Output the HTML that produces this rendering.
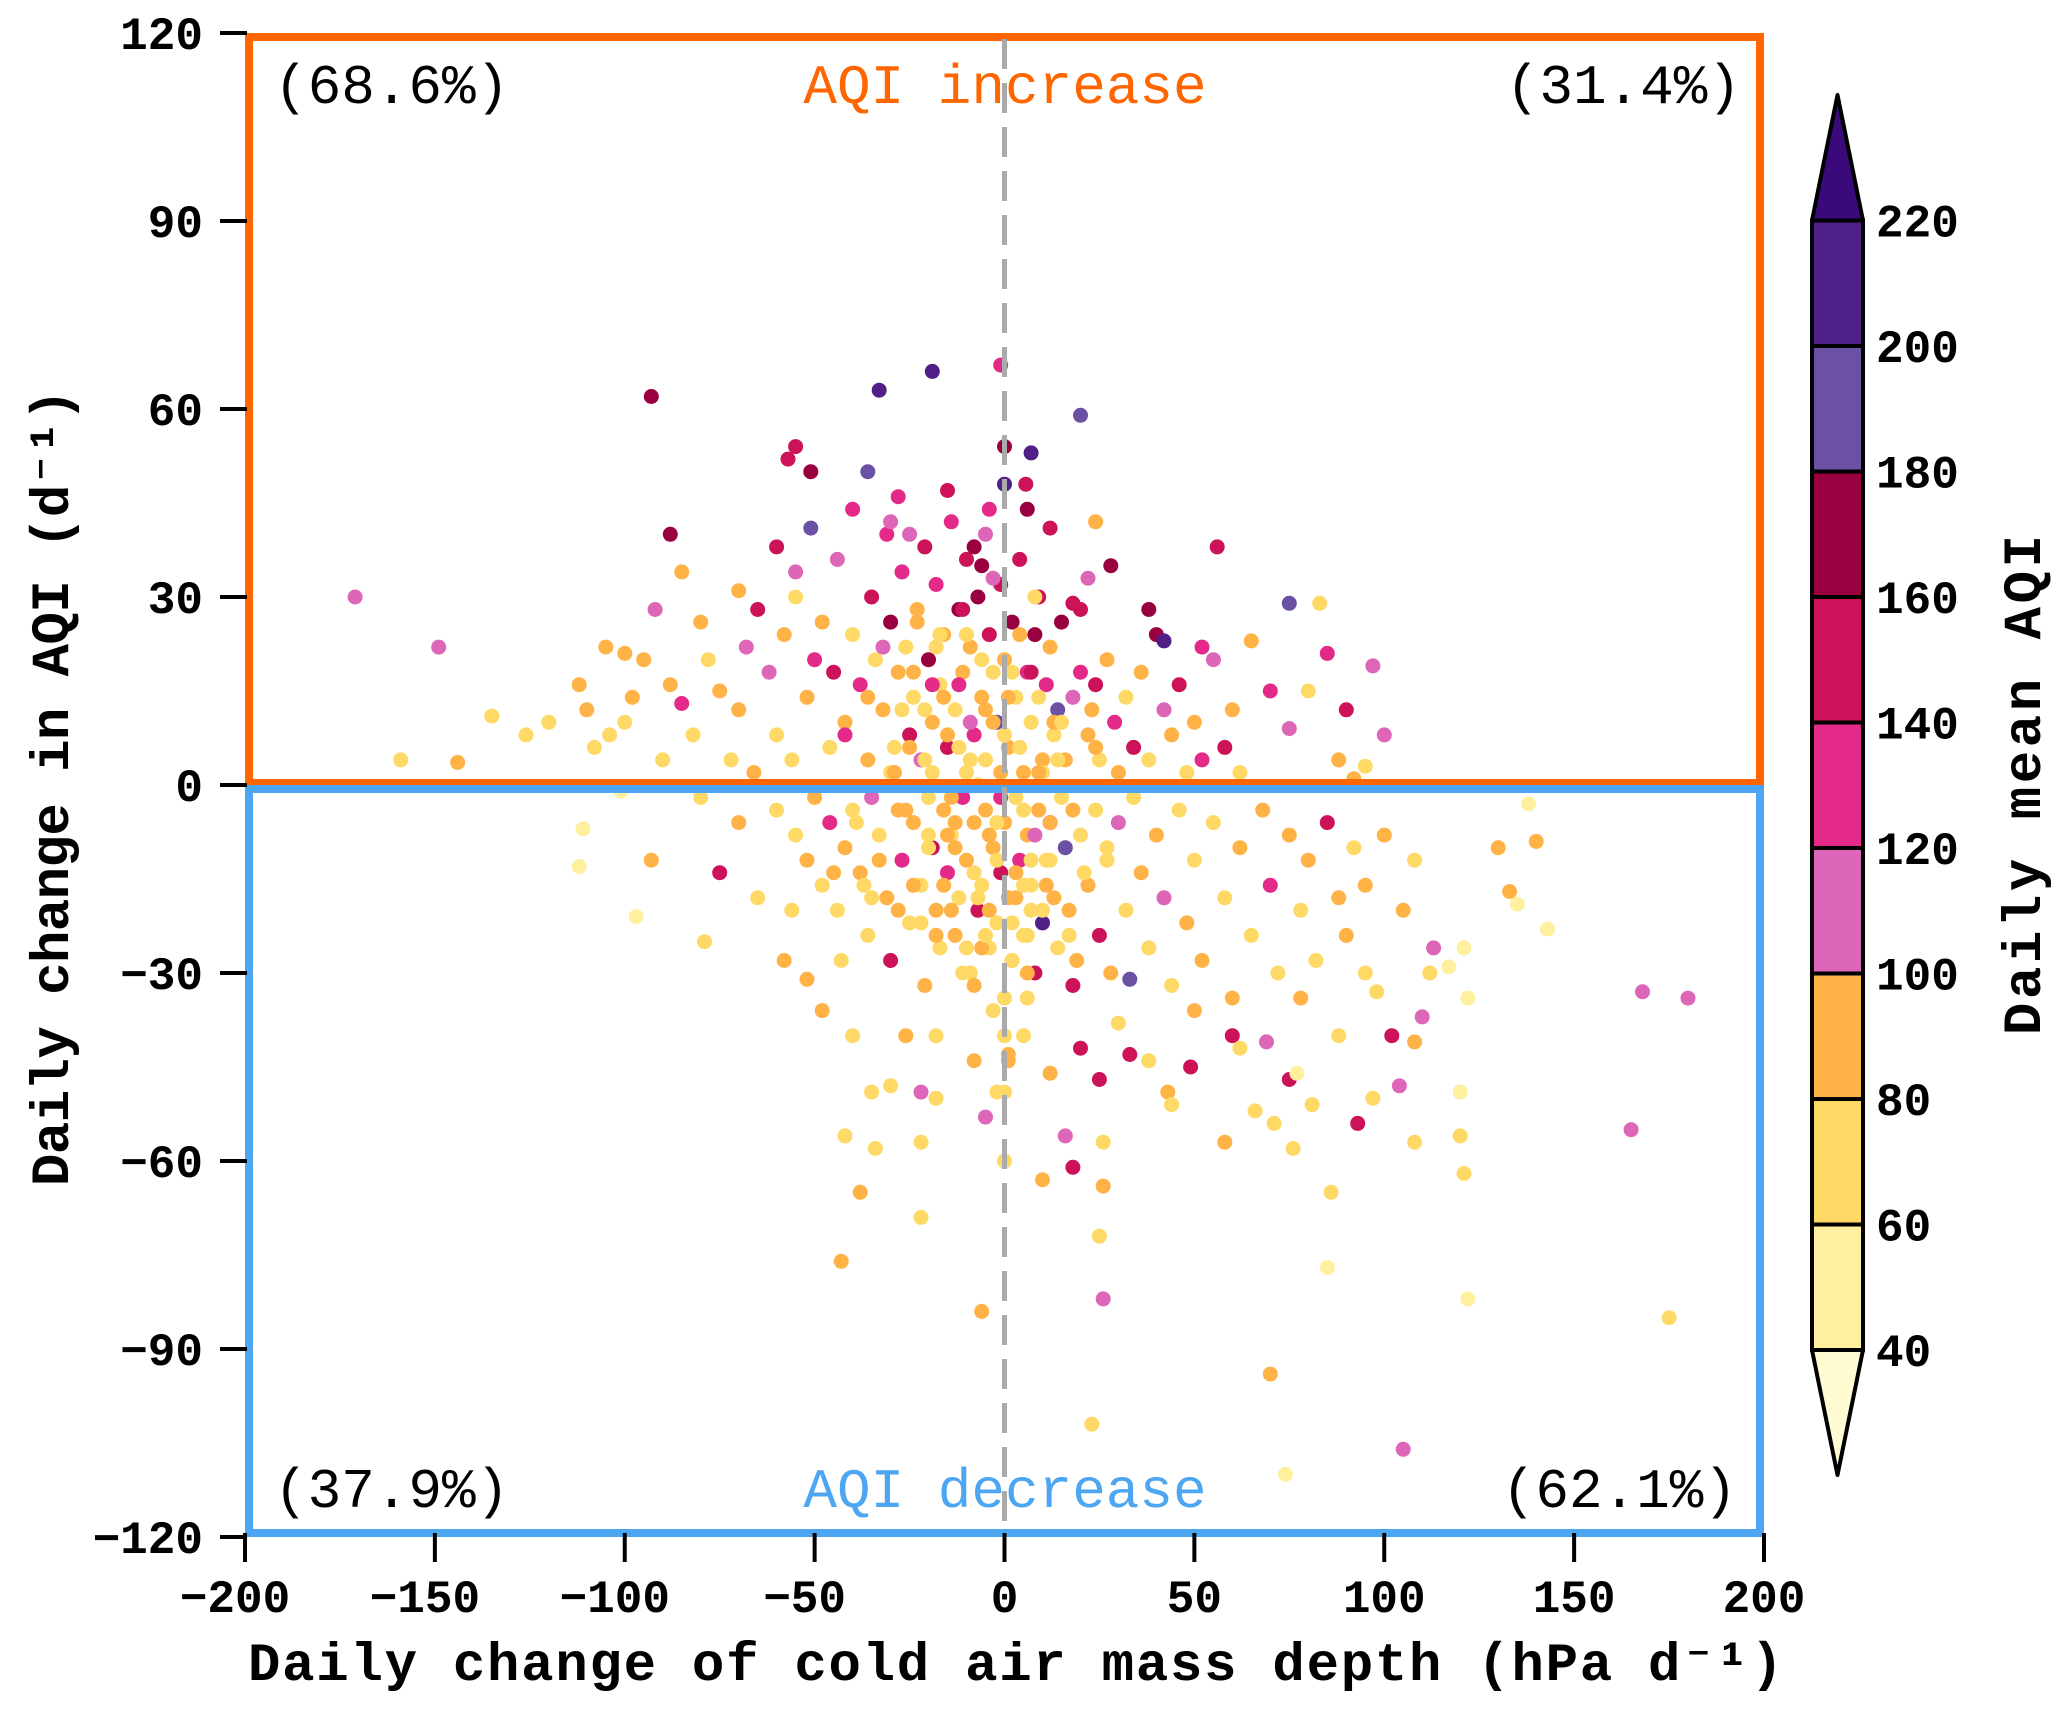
<!DOCTYPE html>
<html><head><meta charset="utf-8"><title>AQI scatter</title>
<style>
html,body{margin:0;padding:0;background:#fff;}
svg{display:block;}
text{font-family:"Liberation Mono","DejaVu Sans Mono",monospace;}
</style></head>
<body>
<svg id="chart" width="2067" height="1713" viewBox="0 0 2067 1713" xmlns="http://www.w3.org/2000/svg">
<g id="points"></g>
<g id="frame"></g>
<g id="axes"></g>
<g id="cbar"></g>
</svg>
<script>
const xTicks = [-200,-150,-100,-50,0,50,100,150,200];
const yTicks = [120,90,60,30,0,-30,-60,-90,-120];
const cbLevels = [40,60,80,100,120,140,160,180,200,220];
const cbColors = ["#fffbd2","#fff0a0","#ffd966","#ffb347","#de66b8","#e42a88","#cc1258","#99003f","#6a51a3","#4f2088","#3a0a7a"];
const quadLabels = ["(68.6%)","(31.4%)","(37.9%)","(62.1%)"];

const xs = [-171,-149,-159,-144,-135,-126,-93,-33,-19,-1,20,-36,-55,-57,-51,-51,-88,0,7,0,5.6,6,12,24,56,75,83,85,97,90,100,95,92,
168,180,165,175,105,70,74,23,-6,-43,26,122,85,86,138,140,130,133,135,143,121,117,122,113,110,108,104,120,120,121,108,93,97,102,98,
-112,-97,-79,-101,-111,-75,-93,-52,-43,-42,-38,-34,-35,-22,-22,-5,-22,-18,-2,0,0,1,10,18,26,26,25,16,20,25,33,33,43,44,49,58,60,69,75,77,81,76,71,66,
-85,-80,-78,-75,-70,-68,-65,-62,-60,-58,-55,-52,-50,-48,-46,-45,-44,-42,-40,-38,-36,-35,-34,-32,-31,-30,-29,-28,-27,-26,-25,-24,-23,-22,-21,-20,-19,-18,-17,-16,-15,-14,-13,-12,-11,-10,-10,-9,-8,-7,-6,-5,-5,-4,-3,-2,-1,0,1,2,3,4,5,6,7,8,9,10,11,12,13,14,15,16,18,20,22,24,25,27,29,30,32,34,36,38,40,42,44,46,48,50,52,55,58,60,62,-95,-98,-100,-104,-108,-110,-90,-88,-82,-72,-66,-56,
-60,-55,-52,-50,-48,-46,-44,-42,-40,-38,-36,-35,-33,-31,-30,-28,-27,-25,-24,-22,-21,-20,-19,-18,-17,-16,-15,-14,-13,-12,-11,-10,-9,-8,-7,-6,-5,-4,-3,-2,-1,0,0,1,2,3,4,5,6,7,8,9,10,11,12,13,14,15,16,17,18,20,22,24,25,27,28,30,32,34,36,38,40,42,44,46,48,50,52,55,58,60,62,65,68,70,72,75,78,80,82,85,88,90,92,95,100,105,108,112,-70,-80,-65,-58,-56,-48,-40,-30,-26,-18,-8,5,12,30,38,50,62,78,88,95,
-120,-112,-105,-100,-92,-85,-70,-60,-55,-40,-28,-15,-25,-8,-4,18,22,28,38,42,52,-6,-3,-30,65,70,80,88,75];
const ys = [30,22,4,3.6,11,8,62,63,66,67,59,50,54,52,50,41,40,54,53,48,48,44,41,42,38,29,29,21,19,12,8,3,1,
-33,-34,-55,-85,-106,-94,-110,-102,-84,-76,-82,-82,-77,-65,-3,-9,-10,-17,-19,-23,-26,-29,-34,-26,-37,-41,-48,-49,-56,-62,-57,-54,-50,-40,-33,
-13,-21,-25,-1,-7,-14,-12,-31,-28,-56,-65,-58,-49,-57,-69,-53,-49,-40,-49,-60,-49,-43,-63,-61,-64,-57,-72,-56,-42,-47,-43,-31,-49,-51,-45,-57,-40,-41,-47,-46,-51,-58,-54,-52,
34,26,20,15,12,22,28,18,8,24,30,14,20,26,6,18,36,10,24,16,4,30,20,12,40,26,6,18,34,22,8,14,28,4,38,20,10,32,16,24,6,42,12,28,18,36,2,22,8,30,14,40,4,24,18,10,32,20,6,26,14,36,2,18,10,24,30,4,16,22,8,12,26,4,14,28,8,16,4,20,10,2,14,6,18,4,24,12,8,16,2,10,4,20,6,12,2,20,14,10,8,6,12,4,16,8,4,2,4,
-4,-8,-12,-2,-16,-6,-20,-10,-4,-14,-24,-2,-8,-18,-28,-4,-12,-22,-6,-16,-32,-2,-10,-20,-26,-4,-14,-8,-24,-18,-2,-12,-30,-6,-20,-16,-4,-26,-10,-22,-14,-6,-34,-18,-28,-2,-12,-24,-8,-16,-30,-4,-22,-12,-6,-18,-26,-2,-10,-20,-32,-8,-16,-4,-24,-12,-30,-6,-20,-2,-14,-26,-8,-18,-32,-4,-22,-12,-28,-6,-18,-34,-10,-24,-4,-16,-30,-8,-20,-12,-28,-6,-18,-24,-10,-16,-8,-20,-12,-30,-6,-2,-18,-28,-20,-36,-40,-48,-40,-50,-44,-40,-46,-38,-44,-36,-42,-34,-40,-30,
10,16,22,21,28,13,31,38,34,44,46,47,40,38,44,29,33,35,28,23,22,35,33,42,23,15,15,4,9];
const aqi = [110,110,70,90,60,60,165,210,210,130,190,190,140,150,165,190,160,165,210,200,150,165,150,90,150,190,60,120,110,140,110,60,80,
110,110,110,70,110,90,50,70,90,90,110,50,50,70,50,90,90,90,50,50,50,50,50,110,110,90,110,50,60,60,60,140,60,150,60,
50,50,60,50,50,150,90,90,60,60,90,60,60,60,60,110,110,60,60,60,60,90,90,150,90,60,60,110,150,150,150,190,90,60,150,90,150,110,150,50,60,60,60,60,
80,90,60,90,80,110,140,110,60,80,60,90,130,80,60,150,110,90,60,130,80,140,60,80,120,160,70,90,130,70,150,60,90,110,140,170,80,120,60,90,140,130,70,160,90,150,60,80,120,170,90,110,70,140,60,190,150,90,80,160,70,140,90,130,60,170,140,80,120,90,70,190,160,90,110,140,80,150,60,90,130,80,60,150,90,70,160,110,90,140,60,80,130,110,140,90,60,90,80,60,70,60,90,60,90,70,60,80,60,
60,70,90,80,60,130,70,90,60,80,70,110,60,90,140,80,120,60,90,70,80,60,150,90,60,80,130,60,90,70,120,80,60,90,140,60,80,70,90,60,150,80,60,90,80,60,130,60,90,70,150,80,200,60,140,90,70,60,190,80,140,60,90,70,150,60,80,110,70,60,90,60,80,110,70,60,90,60,80,70,60,90,80,60,90,130,60,80,70,90,60,140,90,80,60,90,80,90,60,60,80,60,70,90,60,80,60,70,90,70,80,60,90,60,70,80,60,90,70,60,
60,80,90,80,110,130,90,140,110,120,130,140,110,170,120,150,110,170,160,200,120,170,110,110,90,120,60,90,110];

// dense core cluster near the origin
const coreXs = [-24,-21,-18,-15,-12,-9,-6,-3,1,4,7,10,13,-26,-20,-14,-8,-2,3,8,12,-22,-16,-10,-4,2,6,11,-25,-19,-13,-7,-1,5,9,-23,-17,-11,-5,0,4,8,-20,-14,-8,-2,2,6,-27,-21,-15,-9,-3,3,9,14,-24,-18,-12,-6,0,6,12,-19,-13,-7,-1,5,10,-16,-10,-4,2,7,-30,-33,-36,-39,-42,-45,18,21,24,17,20,-28,-32,-37,15,19,23,27,-35,-29,-11,-5,1,7];
const coreYs = [18,12,22,8,16,4,20,10,14,6,18,2,10,-4,-10,-2,-14,-6,-18,-8,-12,-22,-16,-26,-20,-28,-24,-16,6,2,-6,0,-2,-4,2,26,24,28,12,8,24,30,-8,-20,-32,-12,-22,-30,12,4,-8,10,-36,-14,14,4,-16,-24,6,-26,-40,-34,-6,16,-10,-18,2,-16,-20,14,24,-8,18,-12,2,-12,14,-6,8,-14,-4,-14,6,-24,18,-20,22,-16,10,-28,12,-10,-18,2,-30,-24,-44,-20];
const coreAqi = [90,70,60,80,120,70,60,90,80,60,140,70,90,80,60,90,70,60,80,110,60,70,90,60,80,60,70,80,90,60,80,70,130,60,90,80,60,150,90,70,80,60,60,90,80,70,60,80,70,60,90,110,60,80,70,60,90,80,60,80,70,60,90,130,80,60,90,70,60,80,60,90,70,60,70,90,80,60,120,90,80,60,90,70,120,80,110,70,60,80,90,70,60,80,70,60,80,70];

const allX = xs.concat(coreXs), allY = ys.concat(coreYs), allA = aqi.concat(coreAqi);

const NS = "http://www.w3.org/2000/svg";
const X = v => 245 + (v + 200) * 1519 / 400;
const Y = v => 785 - v * 752 / 120;
const cbY = v => 1350 - (v - 40) * 125.5 / 20;
function colorFor(a){
  let i = 0;
  while (i < cbLevels.length && a >= cbLevels[i]) i++;
  return cbColors[i];
}
function mk(tag, attrs, parent){
  const e = document.createElementNS(NS, tag);
  for (const k in attrs) e.setAttribute(k, attrs[k]);
  parent.appendChild(e);
  return e;
}
const gP = document.getElementById('points');
const gF = document.getElementById('frame');
const gA = document.getElementById('axes');
const gC = document.getElementById('cbar');

let r1 = mk('rect',{x:249,y:37,width:1511,height:746,fill:'none',stroke:'#ff6600','stroke-width':8},gF);


let r2 = mk('rect',{x:249,y:789,width:1511,height:744,fill:'none',stroke:'#4da6f2','stroke-width':8},gF);



for (let i = 0; i < allX.length; i++){
  const c = mk('circle',{cx:X(allX[i]).toFixed(1),cy:Y(allY[i]).toFixed(1),r:7.5,fill:colorFor(allA[i])},gP);
  
  
}

let dl = mk('line',{x1:X(0),y1:Y(120)+6,x2:X(0),y2:Y(-120)-6,stroke:'#aaaaaa','stroke-width':5,'stroke-dasharray':'30 14'},gF);



const qPos = [[274,103,'start'],[1741,103,'end'],[274,1507,'start'],[1737,1507,'end']];
quadLabels.forEach((t,i)=>{
  const e = mk('text',{x:qPos[i][0],y:qPos[i][1],'text-anchor':qPos[i][2],'font-size':56,fill:'#000'},gF);
  e.textContent = t;
  
  
});
let ti = mk('text',{x:1005,y:103,'text-anchor':'middle','font-size':56,fill:'#ff6600'},gF);
ti.textContent = 'AQI increase';


let td = mk('text',{x:1005,y:1507,'text-anchor':'middle','font-size':56,fill:'#4da6f2'},gF);
td.textContent = 'AQI decrease';



const fmt = v => (v < 0 ? '\u2212' + Math.abs(v) : String(v));
yTicks.forEach(v=>{
  const l = mk('line',{x1:220,y1:Y(v),x2:247,y2:Y(v),stroke:'#000','stroke-width':4},gA);
  
  
  const t = mk('text',{x:203,y:Y(v)+16,'text-anchor':'end','font-size':46,'font-weight':'bold',fill:'#000'},gA);
  t.textContent = fmt(v);
  
  
});
xTicks.forEach(v=>{
  const l = mk('line',{x1:X(v),y1:1533,x2:X(v),y2:1562,stroke:'#000','stroke-width':4},gA);
  
  
  const t = mk('text',{x:X(v)-(v<0?10:0),y:1612,'text-anchor':'middle','font-size':46,'font-weight':'bold',fill:'#000'},gA);
  t.textContent = fmt(v);
  
  
});
let xt = mk('text',{x:248,y:1680,'font-size':54,'font-weight':'bold',textLength:1535,lengthAdjust:'spacing',fill:'#000'},gA);
xt.textContent = 'Daily change of cold air mass depth (hPa d\u207B\u00B9)';


let yt = mk('text',{x:0,y:0,'font-size':54,'font-weight':'bold',textLength:797,lengthAdjust:'spacing',transform:'translate(68,1186) rotate(-90)',fill:'#000'},gA);
yt.textContent = 'Daily change in AQI (d\u207B\u00B9)';



const bx0 = 1812, bx1 = 1863;
for (let i = 0; i < cbLevels.length - 1; i++){
  const r = mk('rect',{x:bx0,y:cbY(cbLevels[i+1]),width:bx1-bx0,height:cbY(cbLevels[i])-cbY(cbLevels[i+1]),fill:cbColors[i+1],stroke:'#000','stroke-width':4},gC);
  
  
}
let tt = mk('polygon',{points:`${bx0},${cbY(220)} ${bx1},${cbY(220)} ${(bx0+bx1)/2},95`,fill:cbColors[10],stroke:'#000','stroke-width':4,'stroke-linejoin':'round'},gC);


let bt = mk('polygon',{points:`${bx0},${cbY(40)} ${bx1},${cbY(40)} ${(bx0+bx1)/2},1475`,fill:cbColors[0],stroke:'#000','stroke-width':4,'stroke-linejoin':'round'},gC);


cbLevels.forEach(v=>{
  const t = mk('text',{x:1876,y:cbY(v)+16,'font-size':46,'font-weight':'bold',fill:'#000'},gC);
  t.textContent = String(v);
  
  
});
let ct = mk('text',{x:0,y:0,'font-size':54,'font-weight':'bold','text-anchor':'middle',textLength:500,lengthAdjust:'spacing',transform:'translate(2040,785) rotate(-90)',fill:'#000'},gC);
ct.textContent = 'Daily mean AQI';


</script>
</body></html>
